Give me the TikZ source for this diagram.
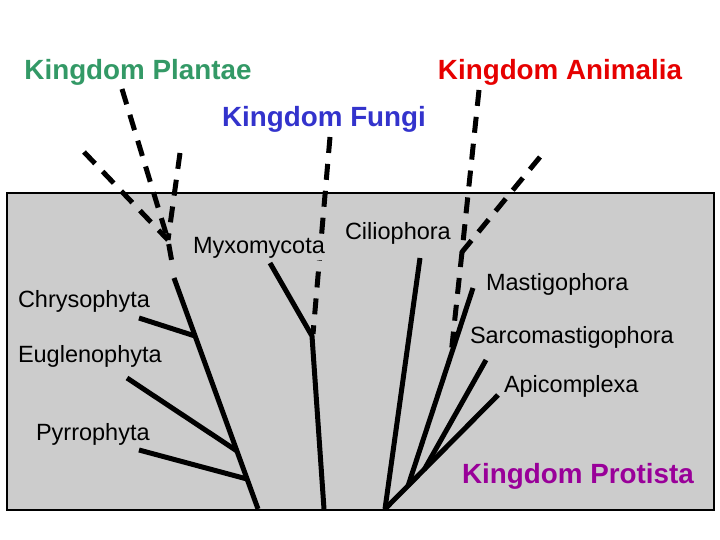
\documentclass[tikz,border=0pt]{standalone}
\usepackage{fontspec}
\setmainfont{Liberation Sans}
\definecolor{boxgray}{RGB}{204,204,204}
\definecolor{plantgreen}{RGB}{51,153,102}
\definecolor{fungiblue}{RGB}{51,51,204}
\definecolor{animalred}{RGB}{230,0,0}
\definecolor{protistpurple}{RGB}{153,0,153}
\begin{document}
\begin{tikzpicture}[x=1pt,y=-1pt,inner sep=0pt,outer sep=0pt,line width=5pt,
lineage/.style={line width=5pt,dash pattern=on 16pt off 11pt},
kingdom/.style={font=\fontsize{27.8}{33}\selectfont\bfseries,anchor=base},
taxon/.style={font=\fontsize{23.5}{28}\selectfont,anchor=base west,fill=boxgray,inner sep=2pt}]

\useasboundingbox (0,0) rectangle (720,540);
\draw[line width=2pt,fill=boxgray] (7,193) rectangle (714,510);

% Plantae side
\coordinate (p1) at (122,89);
\coordinate (p2) at (84,152);
\coordinate (p3) at (180,153);
\coordinate (pjoin) at (168,240);
\coordinate (pend) at (173,268);
\coordinate (ptop) at (174,278);
\coordinate (pbase) at (258,509);
\coordinate (chryso) at (139,318);
\coordinate (eugleno) at (127,378);
\coordinate (pyrro) at (139,450);
\draw[lineage] (p1) -- (pjoin) -- (pend);
\draw[lineage] (p2) -- (pjoin);
\draw[lineage] (p3) -- (pjoin);
\draw (ptop) -- (pbase);
\draw (chryso) -- (195,336);
\draw (eugleno) -- (237,451);
\draw (pyrro) -- (247,479);

% Fungi side
\coordinate (f1) at (330,137);
\coordinate (fjoin) at (312,336);
\coordinate (fbase) at (324,509);
\coordinate (myxo) at (270,263);
\draw[lineage] (f1) -- (313,334);
\draw[miter limit=20] (myxo) -- (fjoin) -- (fbase);

% Animalia side
\coordinate (a1) at (479,90);
\coordinate (a2) at (540,157);
\coordinate (ajoin) at (462,252);
\coordinate (abase) at (385,509);
\coordinate (cilio) at (420,258);
\coordinate (mastigo) at (473,288);
\coordinate (sarco) at (486,360);
\coordinate (apico) at (498,395);
\draw[lineage] (a1) -- (ajoin) -- (451,355);
\draw[lineage] (a2) -- (ajoin);
\draw (cilio) -- (abase);
\draw (apico) -- (abase);
\draw (mastigo) -- (408,486);
\draw (sarco) -- (424,470);

% labels
\node[kingdom,text=plantgreen] (plantae) at (138,80) {Kingdom Plantae};
\node[kingdom,text=animalred] (animalia) at (560,80) {Kingdom Animalia};
\node[kingdom,text=fungiblue] (fungi) at (324,127) {Kingdom Fungi};
\node[kingdom,text=protistpurple] (protista) at (578,483) {Kingdom Protista};
\node[taxon] (myxolab) at (191,253) {Myxomycota};
\node[taxon] (ciliolab) at (343,240) {Ciliophora};
\node[taxon] (chrysolab) at (16,307) {Chrysophyta};
\node[taxon] (euglenolab) at (16,362) {Euglenophyta};
\node[taxon] (pyrrolab) at (34,440) {Pyrrophyta};
\node[taxon] (mastigolab) at (484,290) {Mastigophora};
\node[taxon] (sarcolab) at (468,343) {Sarcomastigophora};
\node[taxon] (apicolab) at (502,392) {Apicomplexa};
\end{tikzpicture}
\end{document}
